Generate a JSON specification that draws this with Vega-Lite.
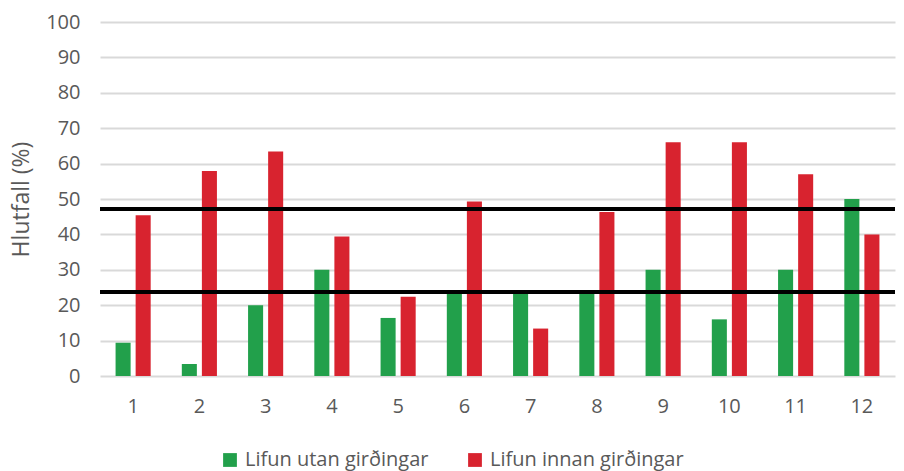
{
  "$schema": "https://vega.github.io/schema/vega-lite/v6.json",
  "width": 795,
  "height": 354,
  "autosize": {"type": "none"},
  "padding": {"left": 100, "top": 22, "right": 9, "bottom": 95},
  "background": "white",
  "config": {
    "view": {"stroke": null},
    "font": "Open Sans",
    "axis": {"labelColor": "#595959", "titleColor": "#595959", "labelFont": "Open Sans", "titleFont": "Open Sans"},
    "legend": {"labelColor": "#595959", "labelFont": "Open Sans"}
  },
  "encoding": {
    "y": {
      "field": "gildi", "type": "quantitative",
      "scale": {"domain": [0, 100], "nice": false},
      "axis": {"title": "Hlutfall (%)", "titleFontSize": 23, "titleFontWeight": "normal", "titlePadding": 12, "values": [0,10,20,30,40,50,60,70,80,90,100], "tickCount": 11, "labelOverlap": false, "labelFontSize": 20, "labelPadding": 20, "domain": false, "ticks": false, "gridColor": "#d9d9d9", "gridWidth": 2}
    }
  },
  "layer": [
    {
      "data": {
        "values": [
          {"stod": "1", "hopur": "Lifun utan girðingar", "gildi": 9.4},
          {"stod": "1", "hopur": "Lifun innan girðingar", "gildi": 45.4},
          {"stod": "2", "hopur": "Lifun utan girðingar", "gildi": 3.4},
          {"stod": "2", "hopur": "Lifun innan girðingar", "gildi": 57.9},
          {"stod": "3", "hopur": "Lifun utan girðingar", "gildi": 20.0},
          {"stod": "3", "hopur": "Lifun innan girðingar", "gildi": 63.4},
          {"stod": "4", "hopur": "Lifun utan girðingar", "gildi": 30.0},
          {"stod": "4", "hopur": "Lifun innan girðingar", "gildi": 39.4},
          {"stod": "5", "hopur": "Lifun utan girðingar", "gildi": 16.4},
          {"stod": "5", "hopur": "Lifun innan girðingar", "gildi": 22.4},
          {"stod": "6", "hopur": "Lifun utan girðingar", "gildi": 23.5},
          {"stod": "6", "hopur": "Lifun innan girðingar", "gildi": 49.3},
          {"stod": "7", "hopur": "Lifun utan girðingar", "gildi": 23.5},
          {"stod": "7", "hopur": "Lifun innan girðingar", "gildi": 13.4},
          {"stod": "8", "hopur": "Lifun utan girðingar", "gildi": 23.5},
          {"stod": "8", "hopur": "Lifun innan girðingar", "gildi": 46.3},
          {"stod": "9", "hopur": "Lifun utan girðingar", "gildi": 30.0},
          {"stod": "9", "hopur": "Lifun innan girðingar", "gildi": 66.0},
          {"stod": "10", "hopur": "Lifun utan girðingar", "gildi": 16.0},
          {"stod": "10", "hopur": "Lifun innan girðingar", "gildi": 66.0},
          {"stod": "11", "hopur": "Lifun utan girðingar", "gildi": 30.0},
          {"stod": "11", "hopur": "Lifun innan girðingar", "gildi": 57.0},
          {"stod": "12", "hopur": "Lifun utan girðingar", "gildi": 50.0},
          {"stod": "12", "hopur": "Lifun innan girðingar", "gildi": 40.0}
        ]
      },
      "mark": {"type": "bar"},
      "encoding": {
        "x": {
          "field": "stod", "type": "nominal", "sort": null,
          "scale": {"paddingInner": 0.47, "paddingOuter": 0.235},
          "axis": {"title": null, "labelAngle": 0, "labelFontSize": 20, "labelPadding": 20, "domain": false, "ticks": false}
        },
        "xOffset": {
          "field": "hopur", "type": "nominal", "sort": ["Lifun utan girðingar", "Lifun innan girðingar"],
          "scale": {"paddingInner": 0.25, "paddingOuter": 0}
        },
        "color": {
          "field": "hopur", "type": "nominal", "sort": ["Lifun utan girðingar", "Lifun innan girðingar"],
          "scale": {"domain": ["Lifun utan girðingar", "Lifun innan girðingar"], "range": ["#22a04b", "#d8232f"]},
          "legend": {"title": null, "orient": "none", "legendX": 120, "legendY": 428, "direction": "horizontal", "columns": 2, "symbolType": "square", "symbolSize": 190, "symbolStrokeWidth": 0, "labelFontSize": 20, "labelLimit": 400, "labelOffset": 5, "columnPadding": 36}
        }
      }
    },
    {
      "data": {"values": [{"gildi": 47.2}, {"gildi": 23.7}]},
      "mark": {"type": "rule", "color": "black", "strokeWidth": 4},
      "encoding": {}
    }
  ]
}
